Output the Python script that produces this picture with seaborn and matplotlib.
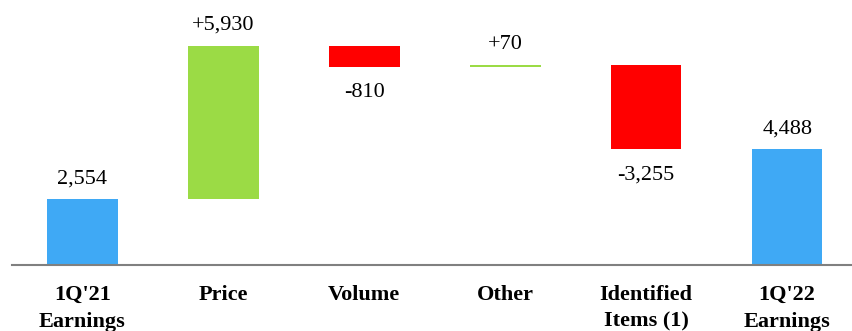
import numpy as np
import matplotlib.pyplot as plt
import seaborn as sns

categories = ["1Q'21\nEarnings", "Price", "Volume", "Other", "Identified\nItems (1)", "1Q'22\nEarnings"]
changes = [2554, 5930, -810, 70, -3255, 4488]
is_total = [True, False, False, False, False, True]
value_labels = ["2,554", "+5,930", "-810", "+70", "-3,255", "4,488"]

blue = "#3FA9F5"
green = "#9BDB45"
red = "#FF0000"

# running totals for the floating bars
bottoms = []
running = 0
for ch, tot in zip(changes, is_total):
    if tot:
        bottoms.append(0)
        running = ch
    else:
        bottoms.append(running)
        running += ch
heights = list(changes)
colors = [blue if t else (green if c >= 0 else red) for c, t in zip(changes, is_total)]

sns.set_theme(style="white")
plt.rcParams['font.family'] = ['Liberation Serif', 'DejaVu Serif']
plt.rcParams['text.color'] = 'black'
plt.rcParams['xtick.color'] = 'black'
plt.rcParams['xtick.labelcolor'] = 'black'

fig = plt.figure(figsize=(8.52, 3.31), dpi=100)
ax = fig.add_axes([12 / 852, 0, 1 - 12 / 852, 1])

sns.barplot(x=categories, y=heights, bottom=bottoms, color=blue, width=0.5,
            saturation=1, linewidth=0, ax=ax)
for p, c in zip(ax.patches, colors):
    p.set_facecolor(c)
    p.set_edgecolor(c)

for i, (b, h, lab) in enumerate(zip(bottoms, heights, value_labels)):
    if h >= 0:
        ax.annotate(lab, (i, b + h), xytext=(0, 8), textcoords="offset points",
                    ha="center", va="bottom", fontsize=16, color="black")
    else:
        ax.annotate(lab, (i, b + h), xytext=(0, -12), textcoords="offset points",
                    ha="center", va="top", fontsize=16, color="black")

ax.set_xlim(-0.5, 5.46)
ax.set_ylim(-2529, 10251)
for s in ["top", "right", "left"]:
    ax.spines[s].set_visible(False)
ax.spines["bottom"].set_position(("data", 0))
ax.spines["bottom"].set_color("#808080")
ax.spines["bottom"].set_linewidth(1.5)
ax.set_yticks([])
ax.tick_params(axis="x", length=0, pad=14, labelcolor="black")
for t in ax.get_xticklabels():
    t.set_fontweight("bold")
    t.set_fontsize(16)
    t.set_linespacing(1.45)
ax.set_facecolor("white")

fig.savefig("out.png", dpi=100)
